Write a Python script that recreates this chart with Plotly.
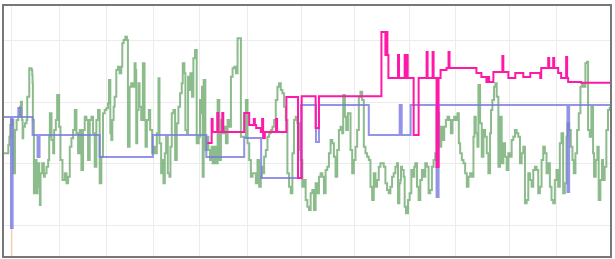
import plotly.graph_objects as go

# ---- data ----
green_x = [12,25,28,31,35,40,45,50,55,60,63,66,68,70,75,80,82,88,95,97,98,99,102,105,110,113,118,120,122,127,132,135,140,145,148,150,155,160,163,168,172,178,182,188,195,200,205,210,215,220,225,230,235,240,245,250,255,260,265,270,275,280,285,290,295,300,305,
           310,315,320,325,328,332,335,338,342,345,350,355,360,365,368,372,377,382,385,390,395,400,405,408,410,413,417,420,425,430,435,438,442,448,452,458,462,468,472,477,480,485,488,492,496,500,505,510,513,517,522,527,532,537,542,547,550,555,558,563,566,570,573,578,582,587,592,598,
           602,606,608,610,613,618,622,627,632,637,640,645,650,655,660,665,670,675,680,685,690,695,700,705,710,715,722,725,735,740,745,750,755,760,765,770,775,780,785,788,790,795,800,805,810,815,820,825,830,835,840,845,850,855,860,865,870,875,880,885,890,895,
           903,905,910,915,920,925,930,935,940,945,950,955,960,965,970,975,980,985,990,995,1000,1005,1010,1015,1020,1025,1030,1033,1038,1042,1047,1052,1055,1060,1065,1070,1075,1080,1085,1090,1095,1100,1105,1110,1115,1120,1125,1130,1135,1140,1145,1150,1155,1160,1165,1170,1175,1180,1185,1190,1195,1198,1202,
           1205,1207,1210,1215,1218,1222,1228,1233,1238,1242,1247,1250,1255,1260,1265,1270,1275,1280,1285,1290,1295,1300,1305,1310,1315,1318,1322,1328,1332,1337,1342,1347,1352,1357,1362,1367,1372,1377,1381,1385,1390,1395,1400,1405,1410,1415,1420,1425,1428,1432,1437,1440,1445,1450,1455,1460,1465,1470,1475,1478,1482,1487,1491,1495,1500,1505,1510,
           1515,1520,1525,1530,1535,1540,1545,1550,1555,1560,1565,1570,1575,1580,1585,1590,1595,1600,1605,1610,1615,1620,1625,1630,1635,1640,1645,1650,1655,1660,1665,1670,1675,1680,1685,1690,1695,1700,1705,1708,1713,1718,1723,1727,1732,1737,1742,1747,1752,1757,1762,1767,1770,1775,1780,1785,1788,1793,1798,1802,1807,1812,1815,1820,1825,1830,1835]
green_y = [395,420,445,480,495,335,465,495,505,535,550,495,440,475,485,495,565,650,645,630,605,495,275,375,275,365,295,240,335,365,325,335,355,375,445,515,435,395,465,495,570,475,375,315,335,305,325,415,440,465,525,455,395,465,345,465,505,495,375,495,505,455,355,495,525,305,385,
           515,525,530,545,615,455,435,495,535,565,645,655,635,655,725,735,745,735,415,595,605,595,665,645,425,525,605,535,495,665,495,415,495,525,465,395,415,395,455,620,425,335,375,305,395,445,335,325,415,515,525,375,485,535,575,605,665,635,465,455,625,585,635,565,680,705,425,445,
           555,515,595,325,615,405,445,405,375,415,365,415,365,555,375,495,455,475,425,495,475,625,650,655,635,740,740,445,445,555,425,375,325,335,335,305,375,295,325,355,335,385,405,445,455,465,475,495,555,595,605,585,575,535,495,335,295,275,395,495,505,485,
           405,375,295,315,255,235,225,275,285,225,305,275,325,335,325,275,345,355,395,435,425,385,325,405,465,475,455,570,505,465,515,515,405,335,375,415,465,565,580,555,415,395,385,375,295,255,335,295,315,355,365,365,355,305,285,275,295,325,335,355,365,245,305,
           315,355,345,325,235,215,255,275,345,325,355,365,295,255,315,345,325,365,355,275,285,355,375,395,385,515,415,475,435,475,495,505,495,455,495,505,495,515,425,395,375,365,335,295,325,335,325,445,505,455,415,600,485,385,465,445,395,335,455,525,555,595,605,565,355,505,365,
           425,385,345,395,385,435,445,465,455,445,365,395,415,245,255,335,315,295,345,355,345,275,295,375,415,395,335,365,295,255,245,315,345,295,425,455,275,305,445,485,465,415,375,335,395,465,515,595,605,595,665,670,465,445,535,395,325,375,415,255,315,375,315,355,465,525,535]

blue_x = [12,33,38,55,62,98,113,119,300,460,621,735,786,906,951,960,1110,1203,1209,1236,1314,1320,1708,1713,1836]
blue_y = [504,171,504,531,504,450,384,450,384,450,384,441,321,540,429,540,450,540,450,540,264,540,279,540,540]

pink_x = [624,637,640,654,657,669,672,735,750,764,767,771,785,789,792,797,831,834,862,897,908,950,960,1148,1160,1163,1166,1169,1198,1201,1218,1221,1224,1227,1245,1260,1284,1287,1302,1305,1314,1320,1326,1344,1350,1353,1434,1449,1464,1467,1472,1485,1512,1515,1530,1551,1575,1596,1626,1629,1650,1653,1665,1668,1680,1689,1704,1707,1710,1749,1836]
pink_y = [426,498,459,516,459,516,459,516,480,498,480,471,459,498,441,459,498,459,564,321,566,471,566,759,690,759,690,621,690,621,690,621,690,621,450,621,699,621,699,621,354,621,645,651,699,651,636,624,609,624,609,639,687,639,621,636,624,636,621,651,681,651,681,651,636,621,684,621,609,607,607]

peach_x = [35, 35]
peach_y = [171, 0]

x_grid = [36, 180, 321, 462, 600, 744, 906, 1068, 1233, 1371, 1533, 1674]
y_grid = [179, 365, 548, 735]

fig = go.Figure()
fig.add_trace(go.Scatter(x=peach_x, y=peach_y, mode="lines",
                         line=dict(color="rgba(245,200,170,0.8)", width=1.5), showlegend=False))
fig.add_trace(go.Scatter(x=green_x, y=green_y, mode="lines", line_shape="hv",
                         line=dict(color="rgba(120,175,120,0.85)", width=2), showlegend=False))
fig.add_trace(go.Scatter(x=blue_x, y=blue_y, mode="lines", line_shape="hv",
                         line=dict(color="rgba(120,120,225,0.8)", width=2), showlegend=False))
fig.add_trace(go.Scatter(x=pink_x, y=pink_y, mode="lines", line_shape="hv",
                         line=dict(color="#ff19a8", width=2), showlegend=False))

fig.update_layout(
    width=615, height=259,
    margin=dict(l=4, r=3, t=6, b=3),
    paper_bgcolor="white", plot_bgcolor="white",
    showlegend=False,
)
fig.update_xaxes(range=[12, 1836], tickvals=x_grid, showticklabels=False, ticks="",
                 showgrid=True, gridcolor="#ececec", gridwidth=1, zeroline=False,
                 showline=True, linecolor="#777", linewidth=1.5, mirror=True)
fig.update_yaxes(range=[87, 837], tickvals=y_grid, showticklabels=False, ticks="",
                 showgrid=True, gridcolor="#ececec", gridwidth=1, zeroline=False,
                 showline=True, linecolor="#777", linewidth=1.5, mirror=True)

fig.write_html("out.html")
